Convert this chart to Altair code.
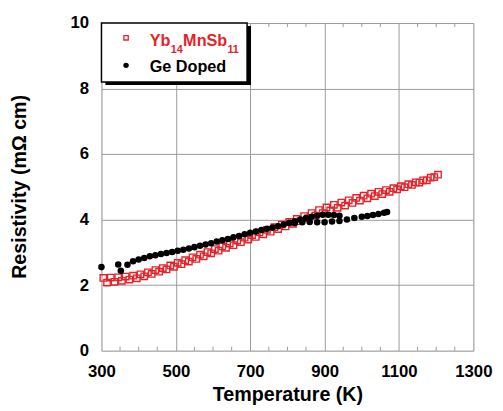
import altair as alt
import pandas as pd

# ---------------- data ----------------
# Yb14MnSb11 (open red squares), two closely spaced runs
red_T1 = [305, 325, 345, 365, 385, 405, 425, 445, 465, 485, 505, 525, 545, 565, 585,
          605, 625, 645, 665, 685, 705, 725, 745, 765, 785, 805, 825, 845, 865, 885,
          905, 925, 945, 965, 985, 1005, 1025, 1045, 1065, 1085, 1105, 1125, 1145,
          1165, 1185, 1205]
red_R1 = [2.22, 2.23, 2.24, 2.26, 2.29, 2.33, 2.39, 2.46, 2.52, 2.60, 2.68, 2.76, 2.85,
          2.93, 3.01, 3.10, 3.18, 3.27, 3.36, 3.45, 3.53, 3.61, 3.69, 3.77, 3.85, 3.93,
          4.02, 4.11, 4.20, 4.29, 4.37, 4.45, 4.52, 4.59, 4.66, 4.73, 4.79, 4.85, 4.90,
          4.96, 5.02, 5.08, 5.14, 5.20, 5.28, 5.37]
red_T2 = [315, 335, 355, 375, 395, 415, 435, 455, 475, 495, 515, 535, 555, 575, 595,
          615, 635, 655, 675, 695, 715, 735, 755, 775, 795, 815, 835, 855, 875, 895,
          915, 935, 955, 975, 995, 1015, 1035, 1055, 1075, 1095, 1115, 1135, 1155,
          1175, 1195]
red_R2 = [2.08, 2.10, 2.13, 2.17, 2.21, 2.27, 2.34, 2.41, 2.48, 2.56, 2.64, 2.72, 2.80,
          2.88, 2.97, 3.05, 3.14, 3.22, 3.31, 3.39, 3.47, 3.55, 3.63, 3.71, 3.79, 3.87,
          3.95, 4.04, 4.12, 4.20, 4.28, 4.36, 4.43, 4.51, 4.58, 4.65, 4.72, 4.78, 4.85,
          4.92, 4.99, 5.06, 5.13, 5.20, 5.30]

# Ge doped (filled black circles)
blk_T1 = [300, 345, 352, 370, 385, 400, 415, 430, 445, 460, 475, 490, 505, 520, 535,
          550, 565, 580, 595, 610, 625, 640, 655, 670, 685, 700, 715, 730, 745, 760,
          775, 790, 805, 820, 835, 850, 865, 880, 895, 910, 925, 940]
blk_R1 = [2.55, 2.63, 2.44, 2.62, 2.73, 2.78, 2.83, 2.88, 2.91, 2.95, 2.98, 3.01, 3.05,
          3.08, 3.12, 3.16, 3.20, 3.24, 3.28, 3.33, 3.37, 3.41, 3.46, 3.50, 3.55, 3.60,
          3.64, 3.68, 3.72, 3.76, 3.80, 3.85, 3.90, 3.95, 4.00, 4.05, 4.09, 4.12, 4.15,
          4.15, 4.14, 4.12]
blk_T2 = [820, 840, 860, 880, 900, 920, 940, 960, 980, 1000, 1015, 1030, 1045, 1060, 1068]
blk_R2 = [3.90, 3.92, 3.93, 3.92, 3.92, 3.94, 3.96, 4.00, 4.05, 4.09, 4.11, 4.14, 4.17,
          4.21, 4.23]

x_labels = [300, 500, 700, 900, 1100, 1300]
y_labels = [0, 2, 4, 6, 8, 10]
minor_T = [350, 400, 450, 550, 600, 650, 750, 800, 850, 950, 1000, 1050,
           1150, 1200, 1250]

RED = "#e2242b"
FONT = "Liberation Sans"

red_df = pd.DataFrame({"T": red_T1 + red_T2, "R": red_R1 + red_R2})
blk_df = pd.DataFrame({"T": blk_T1 + blk_T2, "R": blk_R1 + blk_R2})
minor_df = pd.DataFrame({"T": minor_T})

xscale = alt.Scale(domain=[300, 1300], nice=False, zero=False)
yscale = alt.Scale(domain=[0, 10], nice=False)

x_axis = alt.Axis(values=x_labels, format="d", grid=True, gridColor="#9a9a9a",
                  gridWidth=1, ticks=False, domain=False, labelFont=FONT,
                  labelFontSize=17, labelFontWeight="bold", labelColor="black",
                  labelPadding=13, labelFlush=False,
                  title="Temperature (K)", titleFont=FONT, titleFontSize=20,
                  titleFontWeight="bold", titleColor="black",
                  titleBaseline="alphabetic", titleY=51)
y_axis = alt.Axis(values=y_labels, format="d", grid=True, gridColor="#9a9a9a",
                  gridWidth=1, ticks=False, domain=False, labelFont=FONT,
                  labelFontSize=17, labelFontWeight="bold", labelColor="black",
                  labelPadding=13, labelFlush=False,
                  title="Resistivity (mΩ cm)", titleFont=FONT, titleFontSize=20,
                  titleFontWeight="bold", titleColor="black",
                  titleBaseline="middle", titleX=-83, titleY=166, titleAngle=270)

red_layer = alt.Chart(red_df).mark_point(
    shape="square", filled=False, color=RED, size=42, strokeWidth=1.4, opacity=1
).encode(
    x=alt.X("T:Q", scale=xscale, axis=x_axis),
    y=alt.Y("R:Q", scale=yscale, axis=y_axis),
)

blk_layer = alt.Chart(blk_df).mark_circle(color="black", size=44, opacity=1).encode(
    x=alt.X("T:Q", scale=xscale),
    y=alt.Y("R:Q", scale=yscale),
)

minor_bottom = alt.Chart(minor_df).mark_rule(color="#9a9a9a", strokeWidth=1).encode(
    x=alt.X("T:Q", scale=xscale),
    y=alt.value(333), y2=alt.value(329),
)
minor_top = alt.Chart(minor_df).mark_rule(color="#9a9a9a", strokeWidth=1).encode(
    x=alt.X("T:Q", scale=xscale),
    y=alt.value(0), y2=alt.value(4),
)

# ---------------- legend ----------------
one = pd.DataFrame({"a": [0]})
shadow = alt.Chart(one).mark_rect(color="black").encode(
    x=alt.value(4), x2=alt.value(152), y=alt.value(3), y2=alt.value(63))
box = alt.Chart(one).mark_rect(fill="white", stroke="black", strokeWidth=1.5).encode(
    x=alt.value(0), x2=alt.value(148), y=alt.value(0), y2=alt.value(60))
sym_red = alt.Chart(one).mark_point(shape="square", filled=False, color=RED,
                                    size=20, strokeWidth=1.3, opacity=1).encode(
    x=alt.value(25), y=alt.value(15))
sym_blk = alt.Chart(one).mark_circle(color="black", size=30, opacity=1).encode(
    x=alt.value(25), y=alt.value(43))

def txt(s, x, y, size, color):
    return alt.Chart(one).mark_text(text=s, font=FONT, fontSize=size, fontWeight="bold",
                                    color=color, align="left",
                                    baseline="alphabetic").encode(
        x=alt.value(x), y=alt.value(y))

leg = [
    shadow, box, sym_red, sym_blk,
    txt("Yb", 49, 23, 16.5, RED),
    txt("14", 70.5, 30, 11, RED),
    txt("MnSb", 83, 23, 16.5, RED),
    txt("11", 128, 30, 11, RED),
    txt("Ge Doped", 49, 50, 16.5, "black"),
]

chart = alt.layer(red_layer, minor_bottom, minor_top, blk_layer, *leg).properties(
    width=378, height=333,
    autosize=alt.AutoSizeParams(type="none"),
    padding={"left": 95, "top": 12, "right": 22, "bottom": 55},
).configure_view(stroke="#888888", strokeWidth=1).configure(background="white")

chart.save("out.html", embed_options={"renderer": "svg", "actions": False})
